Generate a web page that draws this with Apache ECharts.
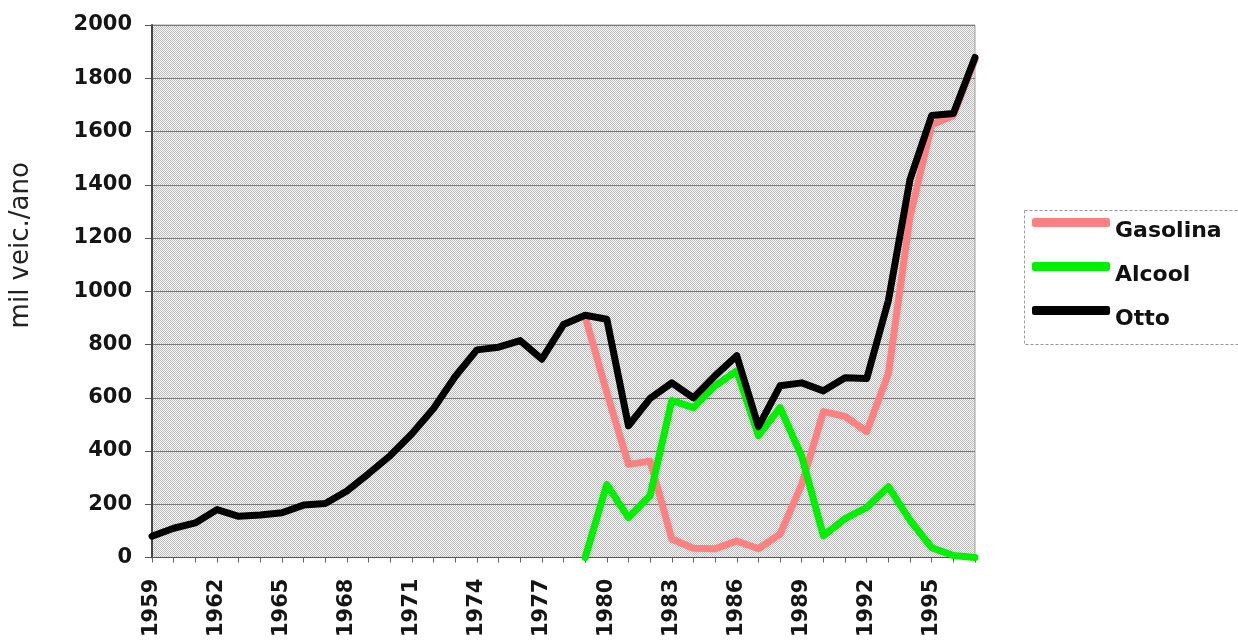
<!DOCTYPE html>
<html>
<head>
<meta charset="utf-8">
<title>mil veic./ano</title>
<script src="https://cdn.jsdelivr.net/npm/echarts@6/dist/echarts.min.js"></script>
<style>
  html, body { margin: 0; padding: 0; background: #ffffff; }
  #chart { width: 1238px; height: 640px; }
</style>
</head>
<body>
<div id="chart"></div>
<script>
// Annual vehicle production (thousands of vehicles per year), Otto-cycle engines
const years = [];
for (let y = 1959; y <= 1997; y++) years.push(String(y));

const gasolina = [
  null, null, null, null, null, null, null, null, null, null,
  null, null, null, null, null, null, null, null, null, null,
  905, 620, 350, 362, 70, 35, 33, 62, 33, 88,
  275, 548, 530, 473, 690, 1280, 1625, 1660, 1870
];

const alcool = [
  null, null, null, null, null, null, null, null, null, null,
  null, null, null, null, null, null, null, null, null, null,
  0, 274, 150, 233, 590, 563, 645, 701, 458, 563,
  380, 82, 146, 188, 266, 140, 37, 8, 0
];

const otto = [
  80, 110, 130, 180, 155, 160, 168, 197, 203, 250,
  315, 383, 465, 560, 680, 780, 790, 815, 745, 875,
  910, 895, 495, 598, 656, 600, 683, 758, 492, 645,
  656, 626, 675, 672, 965, 1420, 1660, 1668, 1878
];

const yTicks = { min: 0, max: 2000, step: 200 };

// Fine grey dither used as the plot-area fill
function ditherPattern() {
  const c = document.createElement('canvas');
  c.width = 4; c.height = 4;
  const g = c.getContext('2d');
  g.fillStyle = '#f7f7f7';
  g.fillRect(0, 0, 4, 4);
  g.fillStyle = '#bdbdbd';
  for (let y = 0; y < 4; y++) {
    for (let x = 0; x < 4; x++) {
      if ((x + y) % 2 === 0) g.fillRect(x, y, 1, 1);
    }
  }
  return c;
}

const chart = echarts.init(document.getElementById('chart'), null, { renderer: 'canvas' });

const tickFont = { fontFamily: 'DejaVu Sans', fontWeight: 'bold', fontSize: 21, color: '#151515' };
const legendFont = { fontFamily: 'DejaVu Sans', fontWeight: 'bold', fontSize: 22, color: '#111111' };

chart.setOption({
  animation: false,
  backgroundColor: '#ffffff',
  grid: {
    left: 152, top: 25, right: 263, bottom: 82,
    show: true,
    backgroundColor: { image: ditherPattern(), repeat: 'repeat' },
    borderColor: '#a0a0a0',
    borderWidth: 1
  },
  graphic: [{
    type: 'rect',
    shape: { x: 1024.5, y: 210.5, width: 240, height: 134 },
    style: { fill: 'none', stroke: '#9a9a9a', lineWidth: 1, lineDash: [3, 2] },
    z: 1
  }],
  legend: {
    orient: 'vertical',
    left: 1032,
    top: 203,
    padding: 0,
    itemWidth: 78,
    itemHeight: 9,
    itemGap: 5,
    icon: 'roundRect',
    formatter: function (name) { return '{t|' + name + '}'; },
    textStyle: Object.assign({
      rich: {
        t: Object.assign({ lineHeight: 24, padding: [17, 0, 0, 0] }, legendFont)
      }
    }, legendFont),
    data: ['Gasolina', 'Alcool', 'Otto']
  },
  xAxis: {
    type: 'category',
    data: years,
    boundaryGap: false,
    axisLine: { show: true, lineStyle: { color: '#555555', width: 1 } },
    axisTick: { show: true, interval: 0, length: 5, lineStyle: { color: '#666666' } },
    axisLabel: Object.assign({ interval: 2, rotate: 90, margin: 21 }, tickFont),
    splitLine: { show: false }
  },
  yAxis: {
    type: 'value',
    min: yTicks.min,
    max: yTicks.max,
    interval: yTicks.step,
    name: 'mil veic./ano',
    nameLocation: 'middle',
    nameRotate: 90,
    nameGap: 118,
    nameTextStyle: { fontFamily: 'DejaVu Sans', fontSize: 26, color: '#222222', padding: [0, 0, 0, 92] },
    axisLine: { show: true, lineStyle: { color: '#444444', width: 2 } },
    axisTick: { show: true, length: 7, lineStyle: { color: '#555555' } },
    axisLabel: Object.assign({ margin: 20, formatter: function (v) { return String(v); } }, tickFont),
    splitLine: { show: true, lineStyle: { color: '#7a7a7a', width: 1 } }
  },
  series: [
    {
      name: 'Gasolina', type: 'line', data: gasolina, color: '#ff8080',
      symbol: 'none', connectNulls: false,
      lineStyle: { width: 7, color: '#ff8080', cap: 'round', join: 'round' },
      z: 2
    },
    {
      name: 'Alcool', type: 'line', data: alcool, color: '#00f000',
      symbol: 'none', connectNulls: false,
      lineStyle: { width: 7, color: '#00f000', cap: 'round', join: 'round' },
      z: 3
    },
    {
      name: 'Otto', type: 'line', data: otto, color: '#000000',
      symbol: 'none',
      lineStyle: { width: 7, color: '#000000', cap: 'round', join: 'round' },
      z: 4
    }
  ]
});
</script>
</body>
</html>
